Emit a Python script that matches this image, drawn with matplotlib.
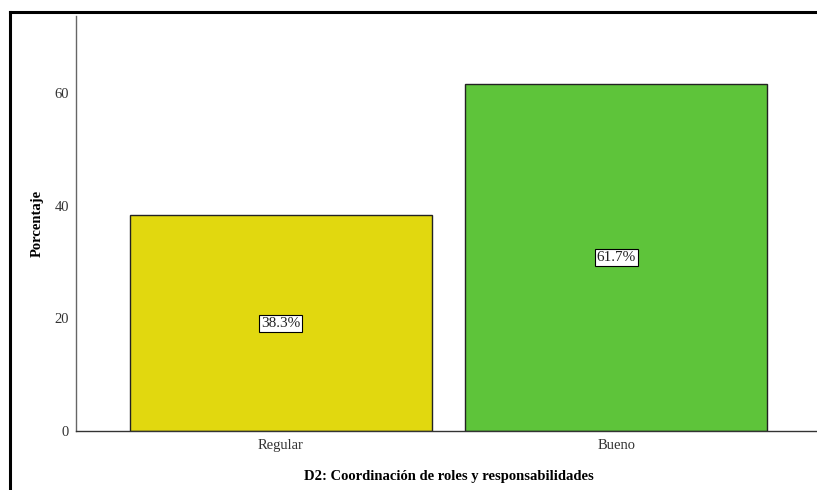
import matplotlib
matplotlib.use("Agg")
import matplotlib.pyplot as plt
from matplotlib.lines import Line2D

categories = ["Regular", "Bueno"]
values = [38.3, 61.7]
labels = ["38.3%", "61.7%"]
colors = ["#E1D80F", "#5EC43A"]
yticks = [0, 20, 40, 60]

serif = ["Liberation Serif", "DejaVu Serif"]

fig = plt.figure(figsize=(8.17, 4.90), dpi=100)
ax = fig.add_axes([76/817, 1-431/490, (821-76)/817, (431-16)/490])

x = list(range(len(categories)))
ax.bar(x, values, width=0.9, color=colors, edgecolor="#222222", linewidth=1.0, zorder=2)
for xi, v, lab in zip(x, values, labels):
    ax.text(xi, v/2, lab, ha="center", va="center", fontsize=11, family=serif, color="#222222",
            bbox=dict(boxstyle="square,pad=0.12", facecolor="white", edgecolor="black", linewidth=0.8), zorder=3)

ax.set_xlim(-0.611, 1.61)
ax.set_ylim(0, 73.7)
ax.set_yticks(yticks)
ax.set_xticks(x)
ax.set_xticklabels(categories)
for t in ax.get_xticklabels() + ax.get_yticklabels():
    t.set_family(serif)
    t.set_fontsize(10.5)
    t.set_color("#333333")
ax.tick_params(axis="y", length=0, pad=5)
ax.tick_params(axis="x", length=0, pad=6)

for s in ["top", "right"]:
    ax.spines[s].set_visible(False)
ax.spines["left"].set_color("#666666")
ax.spines["bottom"].set_color("#333333")
ax.spines["left"].set_linewidth(1.0)
ax.spines["bottom"].set_linewidth(1.0)

ax.set_ylabel("Porcentaje", family=serif, fontsize=10.5, fontweight="bold", labelpad=8)
ax.set_xlabel("D2: Coordinación de roles y responsabilidades", family=serif, fontsize=10.5,
              fontweight="bold", labelpad=13)

# outer frame
fig.add_artist(Line2D([10/817, 10/817], [0, 1-12/490], transform=fig.transFigure, color="black", linewidth=2.2))
fig.add_artist(Line2D([10/817, 1], [1-12/490, 1-12/490], transform=fig.transFigure, color="black", linewidth=2.2))

fig.savefig("out.png", dpi=100)
